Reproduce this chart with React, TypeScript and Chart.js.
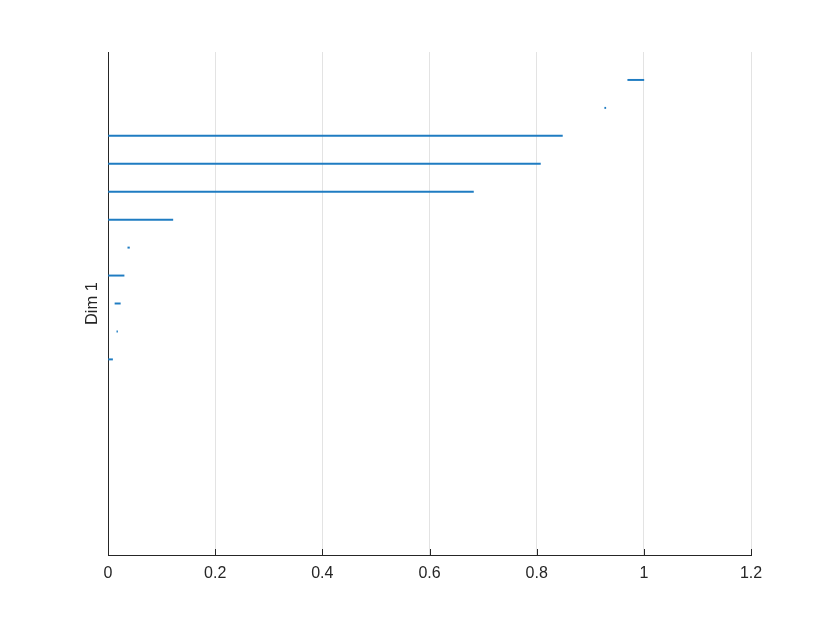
import React, { useEffect, useRef } from 'react';
import { Chart, registerables } from 'chart.js';

Chart.register(...registerables);

// Row positions (top to bottom) on a 0..18 reversed axis
const rows = [1, 2, 3, 4, 5, 6, 7, 8, 9, 10, 11];
// Segment start and end values for each row
const starts = [0.970, 0.927, 0, 0, 0, 0, 0.037, 0, 0.013, 0.0165, 0];
const ends = [1.0, 0.929, 0.848, 0.807, 0.682, 0.121, 0.040, 0.030, 0.023, 0.0178, 0.0085];
const xTicks = [0, 0.2, 0.4, 0.6, 0.8, 1, 1.2];
const yLabel = 'Dim 1';

const AXIS = '#262626';
const FONT = 'Liberation Sans, Arial, Helvetica, sans-serif';

const inwardTicks = {
  id: 'inwardTicks',
  afterDraw(chart: any) {
    const { ctx, chartArea } = chart;
    const xs = chart.scales.x;
    ctx.save();
    ctx.strokeStyle = AXIS;
    ctx.lineWidth = 1;
    ctx.beginPath();
    for (const v of xTicks) {
      const px = Math.round(xs.getPixelForValue(v)) + 0.5;
      ctx.moveTo(px, chartArea.bottom);
      ctx.lineTo(px, chartArea.bottom - 6);
    }
    ctx.stroke();
    ctx.restore();
  },
};

export default function App() {
  const ref = useRef<HTMLCanvasElement | null>(null);
  useEffect(() => {
    if (!ref.current) return;
    const data = rows.map((r, i) => ({ y: r, x: [starts[i], ends[i]] }));
    const chart = new Chart(ref.current, {
      type: 'bar',
      data: {
        datasets: [
          {
            data: data as any,
            backgroundColor: '#1f7cc2',
            borderWidth: 0,
            barThickness: 1.3,
          } as any,
        ],
      },
      plugins: [inwardTicks],
      options: {
        indexAxis: 'y',
        animation: false,
        responsive: true,
        maintainAspectRatio: false,
        layout: { padding: { top: 52, right: 79, left: 0, bottom: 0 } },
        plugins: { legend: { display: false }, tooltip: { enabled: false } },
        scales: {
          x: {
            type: 'linear',
            min: 0,
            max: 1.2,
            afterBuildTicks: (s: any) => {
              s.ticks = xTicks.map((v) => ({ value: v }));
            },
            afterFit: (s: any) => {
              s.height = 68;
            },
            grid: { color: '#e3e3e3', drawTicks: false, lineWidth: 1 },
            border: { display: true, color: AXIS, width: 1 },
            ticks: {
              color: AXIS,
              padding: 9,
              font: { family: FONT, size: 16 },
              maxRotation: 0,
              autoSkip: false,
              callback: (v: any) => String(Math.round(Number(v) * 10) / 10),
            },
          },
          y: {
            type: 'linear',
            min: 0,
            max: 18,
            offset: false,
            reverse: true,
            afterFit: (s: any) => {
              s.width = 108;
            },
            grid: { display: false, drawTicks: false },
            border: { display: true, color: AXIS, width: 1 },
            ticks: { display: false },
            title: {
              display: true,
              text: yLabel,
              color: AXIS,
              font: { family: FONT, size: 16.5 },
              padding: { top: 83, bottom: 0 },
            },
          },
        },
      } as any,
    });
    return () => chart.destroy();
  }, []);
  return (
    <div style={{ position: 'absolute', left: 0, top: 0, width: 830, height: 623, background: '#fff' }}>
      <canvas ref={ref} />
    </div>
  );
}
